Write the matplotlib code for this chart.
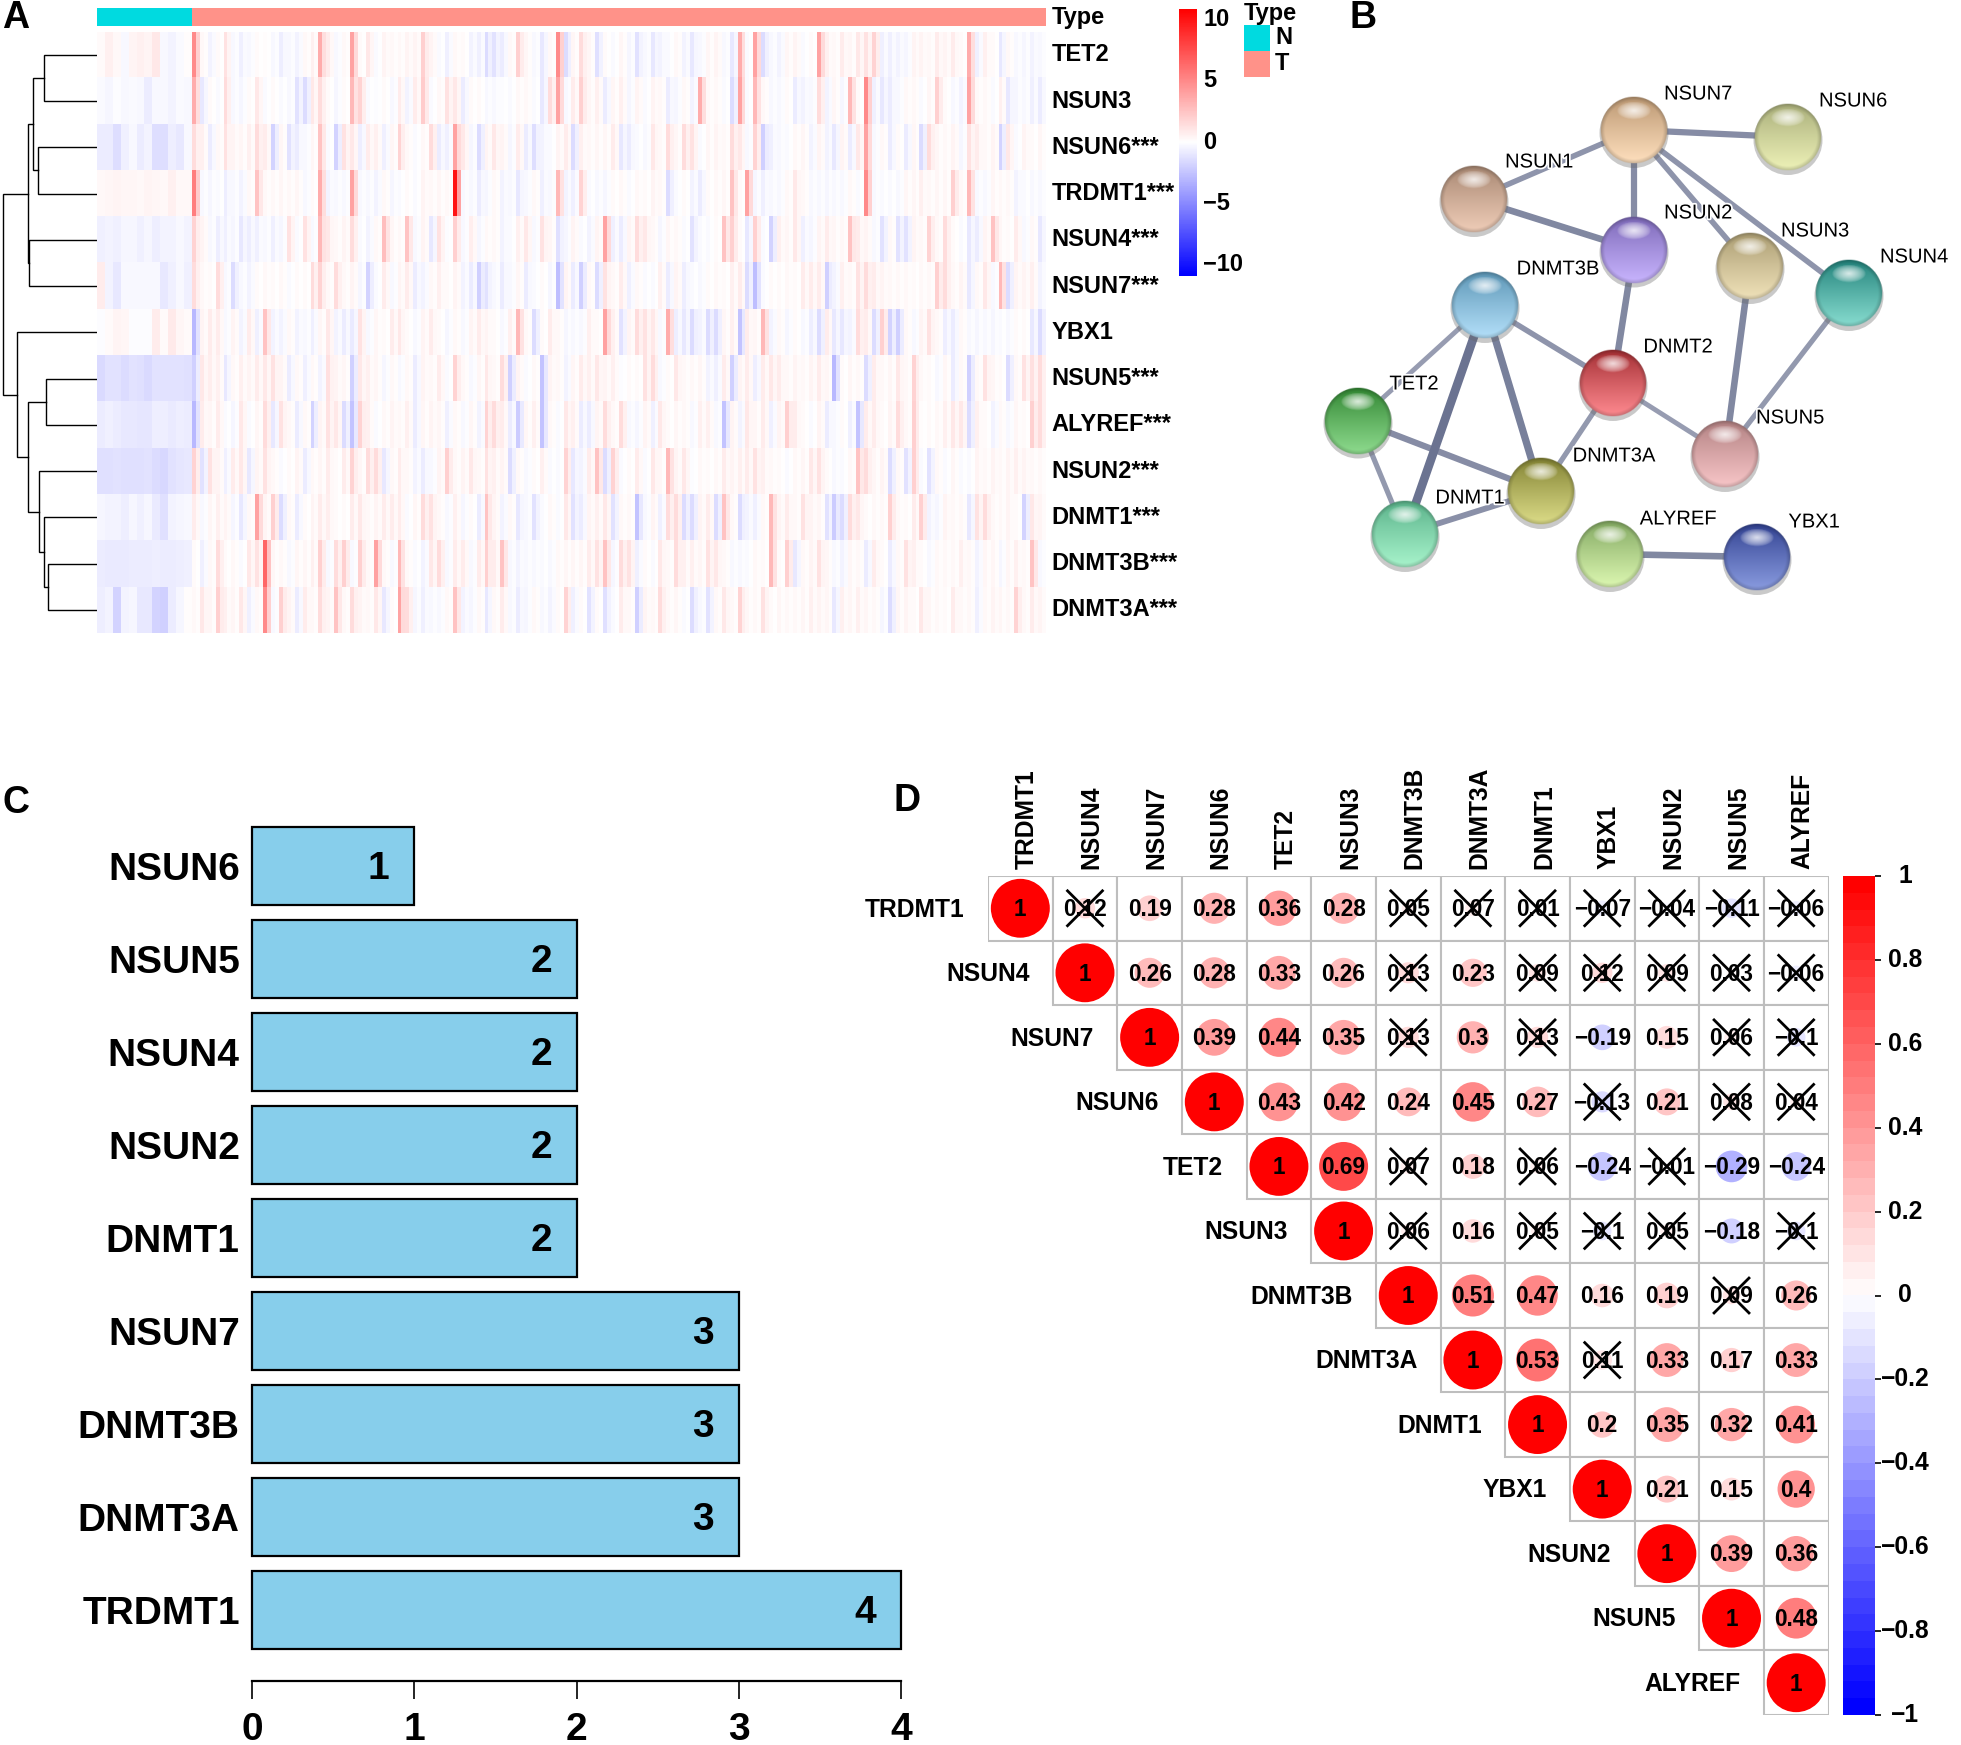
import numpy as np
import matplotlib
matplotlib.use('Agg')
import matplotlib.pyplot as plt
import matplotlib.patheffects as pe
from matplotlib.patches import Circle, Ellipse, Rectangle

plt.rcParams['font.family'] = ['Liberation Sans', 'DejaVu Sans']
plt.rcParams['font.weight'] = 'bold'

W, H = 1961, 1745

# panel A: expression stripes, 12 normal columns then 108 tumour columns
heat_genes = ['TET2', 'NSUN3', 'NSUN6***', 'TRDMT1***', 'NSUN4***', 'NSUN7***', 'YBX1',
              'NSUN5***', 'ALYREF***', 'NSUN2***', 'DNMT1***', 'DNMT3B***', 'DNMT3A***']
n_normal = 12
tet2 = [.2,.6,.3,-.3,.5,.6,.5,1,-.3,-.5,-.2,.1,
        5,.3,-.5,.2,1.2,-.3,-.6,-.3,.2,.1,-.3,-.7,-.3,-.5,.3,.6,3.5,.8,-.3,
        .3,4,.2,1,-.2,.5,.3,.3,.5,.5,2,.5,-.2,-.6,.3,.2,-.5,-.6,-1.5,-1.2,-.8,.3,2,.4,-.3,-1,.3,5,-1.5,.4,
        1.5,.4,-1.3,.2,-.2,.4,-.4,-1.2,-.3,-1,-.5,-.2,.3,-.5,-1,-.3,.4,.5,-.3,-1,3.5,-.2,4,-1.5,-.3,-.5,.4,.5,-.2,.2,
        4,.6,.3,.8,.4,1,1.2,1.8,-.6,-.6,-.5,-.4,.5,.5,.3,.8,.5,.8,.2,3.5,-.6,.6,.2,-1,.3,-.3,-.4,-.5,-.3]
nsun3 = [-.2,-.4,-.1,-.3,-.2,-.3,-.8,-.3,-.3,-.5,-.2,-.3,
         3.5,-1,.2,-.2,1.5,-.3,-.4,.2,1,-.2,.2,-.2,-.3,-1.2,-1.5,1,1.5,.2,-.4,
         .2,3,1.8,-.2,-.1,.2,-.3,.8,-.5,.8,2.2,-.2,.3,1.2,1,-.8,.2,.2,-.3,-.3,-.1,-.2,.3,.3,-.2,-1,1.5,4,-.3,.8,
         2,.4,.6,-.8,.4,.6,-.4,.5,-.2,.5,.3,-.8,-.4,.3,-.5,3.5,.3,.3,-.2,-1.5,4,-.2,3,.3,-.3,-.3,.2,-.8,-.5,-.3,
         1.5,-.5,.4,-.4,3,.2,5,-.6,-1,-.8,-.3,.3,.3,-.2,.4,2,.2,-.3,-.5,4,.3,.3,-.2,.6,-1,-.4,-.3,-.6,-.8]
nsun6 = [-.8,-.8,-1.4,-.6,-.3,-.8,-.5,-1.4,-1.4,-.7,-1,-.3,
         1.5,.6,-.8,.3,1.2,.5,.4,.6,1.5,.8,-1.8,.4,-1.2,-.8,-.3,.4,2.5,-.2,-1.8,
         1.2,1,-.7,.8,.6,-.6,.4,1.8,.3,-.2,.3,1.5,-.8,-.6,4,1,-.4,-1.5,.5,1,.5,-.4,.8,-.8,-1.4,-.5,-.2,.5,.8,-1.5,
         .6,.3,.4,.4,.8,-1,-.8,-.2,-.3,1,.3,1.5,.4,1.5,1.2,-.2,.4,.5,.3,1.5,1,-.3,1.8,-2,-.6,-.3,-.2,.3,.4,-.5,
         .5,-.5,-1,.5,-.8,1,4,-.3,.3,-.8,.2,-.8,.4,-1.5,1.5,.4,.3,.5,-.4,1.2,.8,.3,.5,-1.8,1,-.2,.5,.2,.4]
trdmt1 = [.3,.4,.5,.4,.4,.3,.5,.4,.3,.6,.3,.3,
          5.5,-.3,-.4,-.2,-.7,-.3,-.5,.3,2.5,.3,.3,.4,.3,.4,-.3,.2,3.5,-.5,-.3,
          -.3,4,-.3,-.3,-.5,.3,-.4,-.2,.2,-.2,.5,.3,.4,.3,10,-.3,-.3,-.8,-.4,.3,-.5,-.3,-1,-.3,.3,-.6,-.3,3,-.5,-.6,
          1.8,-.2,-.3,-.4,.2,.3,-.2,.3,.2,.5,.3,-1.5,-.2,.2,-.5,-.8,.2,.3,.4,2.5,.2,4,-.4,-.6,-.3,-.3,.3,1,.3,-.3,
          -.3,-.4,-.3,-.3,.3,-.2,5,-.3,-.2,-.2,-.3,.4,.4,.6,.3,.4,.4,2,.3,3,-.3,-.3,.4,.3,.3,-.5,-.2,-.3,-.3]
nsun4 = [-.6,-.5,-.6,-.4,-.4,-.6,-.4,-.7,-.5,-.5,-.3,-.5,
         1.8,.5,-.3,-.7,-.6,-.4,-1,-.7,-.6,-.3,-.6,-.4,1.2,-.2,1.2,-.3,3,1,.3,
         .5,1.5,-.2,-.5,.3,2.8,.4,.3,2.5,-.3,.5,-1,1.2,-.1,2,-.3,.7,-.4,.3,.3,-.5,-.2,.6,1,-.3,1.2,.4,-1.3,-.4,.5,
         -.2,-.5,.5,4,-.6,-.8,.5,1.5,1,.3,-.4,.4,.3,-.2,-1.2,-.2,-.2,.2,2.5,2,.2,-1,2,-.2,-1.8,.6,.4,1,-.6,-.4,
         .5,.8,.4,.3,2.5,.8,.5,-.3,-1.2,.3,-1.2,-1.2,.5,.3,1.8,.3,1.5,.2,-.2,-1,-.8,.5,2.5,.4,.2,.8,-.3,.3,-1]
nsun7 = [.8,-.5,-1,-.3,-.3,-.3,-.3,-.3,-1,-.6,-.3,-.6,
         1.5,.3,.2,1.5,-.3,-1.5,-.3,-.5,.2,.3,.2,.3,-.2,.2,.2,1.5,1.8,.3,1.5,
         .3,.5,-.4,-1.8,-.2,.8,-.3,.5,.8,-.8,-.5,.3,.6,.2,.5,-.5,-.8,-2,-1.2,-.3,-.8,-.3,.4,-.8,-.2,.2,-.4,-2.8,.5,-.8,
         -2,.3,-1.5,1.2,.3,.8,-.6,.3,-.2,-.2,.6,-.8,.5,-.7,-.2,-.3,.2,.3,.2,.6,.8,-1.5,-2.8,-.2,.2,.2,.3,.2,.8,.8,
         .8,-2,-.5,.6,.3,1.2,1.5,.8,.5,.3,.3,.3,.2,.3,.3,2,1.5,.3,.5,-1,.3,1,-.3,3,-1.5,.5,.5,.6,-.5]
ybx1 = [-.1,.2,.5,.4,-.1,-.1,-.1,.8,.2,.9,.4,.2,
        -3,.5,.8,.8,-.3,.5,-.5,.8,-.6,2.5,-.5,-.5,.3,-.5,-.3,-.6,.4,1,-.5,
        -.8,-.9,1.2,-.3,.4,.2,.8,1,.2,-.3,.5,.8,.2,-.4,.3,-.3,.5,.8,.5,.2,-.3,.6,3,.3,-1.5,.2,.8,.3,-.4,-.3,
        -.3,.6,.2,4,.6,-1.2,.5,1.5,1.2,1,-.3,3.5,-.7,-1,-1.5,-.5,-1.5,-1.5,.4,.6,-2.5,.8,.4,3,-.5,.3,-.4,.2,-.3,-.7,
        -1.5,.8,-1,-1,-.5,1.5,.8,-1.5,2,-1.8,-2,.3,-.3,.5,1.2,.3,-.7,-.8,.3,-.3,-.4,-.3,-.4,-.2,-.3,.2,.2,-1,-1.5]
nsun5 = [-1.6,-1.2,-1.2,-1.5,-1.2,-1.3,-1.6,-1.2,-1.2,-1.2,-1.2,-1.3,
         -2,1,.7,.6,-1,.3,.6,.5,.8,1,1.2,.5,-.8,.3,-.6,.3,-.5,1.3,.5,
         .4,-2,1,.6,.4,-.4,.3,-.3,.3,-.8,.5,.3,.8,-.2,1.8,.3,-.3,.4,1,.3,1.5,-2,.5,-.2,.3,-2.5,.5,.3,-.5,.4,
         .8,.6,1,.5,.6,-.1,.2,.2,1.2,1.5,-.3,.2,1,.3,.3,.4,-.5,-.6,.8,-2,.5,.8,-.7,.8,1,.8,.3,.5,.3,.5,
         .8,.4,-3,.2,.4,.3,-1.5,.8,.3,.4,1,.3,1.8,.3,.2,-.3,.4,-.8,.3,-2,.3,1.2,.4,.2,-1.5,.3,1.2,1.3,1.5]
alyref = [-.8,-.6,-.8,-1,-1,-1.1,-1.1,-.7,-.7,-.9,-.7,-.8,
          -3,.8,.4,.8,-.2,-.4,1,-.2,.4,1.5,-1,1.2,.3,-.8,.3,-1.8,.5,1.2,1,
          -1.5,-2.5,1.8,.6,-.2,.3,.5,.3,.6,-.8,.4,.5,.4,-.6,.3,-.3,.4,-.5,1.8,1.5,.8,-.8,-2.2,.4,.6,-2.5,.3,-.2,1,.6,
          -.8,-.8,.5,1.5,.3,1.5,-.3,-.4,.5,-.6,1,.2,.4,.3,-.3,.6,.6,-.3,-2.5,.5,-.5,1,.4,.8,-.6,.5,2,.8,.2,-.2,
          .5,-.8,-.3,.2,-.6,-2.5,.8,.8,.2,.5,1.5,.3,2,.1,.2,.3,.6,1,1,-1.5,.6,.2,-.5,.3,-.3,.4,.2,2,1.5]
nsun2 = [-1.3,-1.3,-1.2,-1.3,-1.3,-1.3,-1.2,-1.5,-1.7,-1.2,-1.1,-1,
         1.8,-1.2,1.2,.5,-.6,.8,1,-1,.5,1.2,.3,-.2,.2,.5,-.8,.3,.4,.8,.2,
         .8,1.8,.4,1.5,1.5,-1,.3,.8,.3,-.5,-.8,-.3,.5,2,.3,.5,1,.3,1.2,.6,.5,-1.5,.3,-.3,.2,.6,-.2,-.2,1.8,-1,
         -.5,.8,2.5,-1.5,1.8,-.2,.2,.8,-.2,1,.4,3,.5,1,-.1,.3,.2,.3,.8,.5,.6,.8,1.2,.6,.3,.2,-.2,.3,.4,1,
         1.2,.2,-.3,-.2,.3,2.5,1.5,.4,.5,-1.5,.3,-1.2,2,-.2,-1.2,.3,-.2,.4,-.2,-.2,.5,.3,.5,.3,.5,.6,.5,.3,.3]
dnmt1 = [-.4,-.5,-.5,-.7,-.4,-.6,-.4,-.9,-1.3,-.5,-.4,-.3,
         .8,-.3,.4,.6,.5,-.4,-1,.3,4,.5,2,-1.5,.3,-.8,.2,.5,.8,.7,.2,
         .2,.8,1,.3,.5,.8,.8,.8,-.2,.4,1.5,1.2,.3,-.3,.6,-.4,.2,-.8,2.5,.5,-.5,.3,-1,-.3,-1.2,-.2,.3,-.2,1,-1.2,
         -.8,.5,.6,1,-1.2,.3,.3,-2.5,-.3,.5,-.6,1.5,1.5,-1.5,-1.5,.5,.8,-1.5,2.5,.3,-1.5,-.5,-.6,.3,3,.5,.8,.3,1.2,.5,
         .4,-1.2,-2.2,-1.5,1.5,1,.2,.3,.3,2,.3,.2,.8,2,-.5,-.4,.5,.3,.3,-1,1.2,1.5,.3,.3,.5,.2,-1.8,1,.5]
dnmt3b = [-.8,-.9,-.9,-.9,-.8,-.8,-.8,-.7,-.8,-.8,-.7,-.6,
          .2,-.6,.3,1.5,.2,.3,-.2,1,1.2,6.5,.4,.3,-.3,.4,.4,.6,2,-.3,1.5,
          2,-.3,2,.3,4,.3,-.3,3,.3,-.2,-.5,1,1.5,-.3,.8,.8,-.3,.8,2,.8,2.5,-.3,-.5,-.3,-.3,-.2,-.3,.3,.4,.4,
          .4,.8,1.2,2.5,-.4,1.5,1.2,-.6,.2,-.2,1,.3,1.5,.6,.6,.4,1.2,1,.3,-.3,-.3,-.2,.3,.2,3,.2,2,-1,.3,.5,
          1.2,.4,-.3,-.5,.4,.3,-.8,.8,.2,-.8,.3,1.2,.6,.2,-.3,.3,.3,.3,.6,.3,-.5,.4,.4,-.4,.4,.6,.3,2.5,-.3]
dnmt3a = [-.7,-.5,-1.8,-.5,-.4,-1,-1,-1.8,-2,-.8,-.4,.1,
          .3,1,.4,2,.6,.4,1,-.6,.3,5,-.3,2,.5,-.8,.8,.3,1.5,.5,2.5,
          .3,1.5,.5,.3,1,-1,.2,4,1.5,-.4,-.6,-.3,-.3,.3,2.5,-.5,-.4,.3,-1,.3,.8,-.3,-.8,-.4,.3,-.3,-.5,.2,1.8,-.6,
          .2,-1.2,.2,-1.3,-.2,.8,.3,-2,.5,.3,1.5,.3,.4,-.2,-1.5,-.3,-1.2,.3,1,.3,1.8,.4,.3,1.2,.2,.4,.3,.3,.4,.6,
          .5,.4,-1,.6,.4,.6,.4,.3,-.4,-1.5,.4,.5,.2,1,.4,.3,.2,.8,.3,.3,-.6,.3,.5,.4,.3,1.8,.3,.8,.5]
heat_rows = [tet2, nsun3, nsun6, trdmt1, nsun4, nsun7, ybx1, nsun5, alyref, nsun2, dnmt1, dnmt3b, dnmt3a]
# row tree: (child, child, height); leaves are 0-12, new clusters count on from 13
heat_tree = [(0, 1, 44), (2, 3, 37.5), (13, 14, 33), (4, 5, 29), (15, 16, 28), (7, 8, 46),
             (11, 12, 48), (10, 19, 44), (9, 20, 39), (18, 21, 28), (6, 22, 16.5), (17, 23, 2.5)]

# panel B: network
net_names = ['NSUN7', 'NSUN6', 'NSUN1', 'NSUN2', 'NSUN3', 'NSUN4', 'DNMT3B', 'DNMT2', 'TET2',
             'NSUN5', 'DNMT3A', 'DNMT1', 'ALYREF', 'YBX1']
net_x = [1634, 1788, 1474, 1634, 1750, 1849, 1485, 1613, 1358, 1725, 1541, 1405, 1610, 1757]
net_y = [130, 137, 199, 249.5, 266, 293, 305, 383, 420.5, 454, 491, 534, 554, 557]
label_x = [1698, 1853, 1539, 1698, 1815, 1914, 1558, 1678, 1414, 1790, 1614, 1470, 1678, 1814]
label_y = [94, 101, 162, 213, 231, 257, 269, 347, 384, 418, 456, 498, 519, 522]
net_dark = ['#B8946F', '#A7AC78', '#A58570', '#7A66B5', '#A89A70', '#1F7F78', '#5A94B4', '#A02B30',
            '#2F8430', '#B07F80', '#7F7F30', '#58B088', '#7FA55F', '#2F3F8F']
net_light = ['#FFE0BE', '#EEF2B8', '#F0CDB8', '#C9B5FF', '#F0E2BA', '#88DDD0', '#B4E0FA', '#FF8A90',
             '#8FDC8F', '#F8C6C8', '#DCDC88', '#A8F4CC', '#DDF8B2', '#8A9CE0']
net_edges = [('NSUN7', 'NSUN6', 3.6), ('NSUN7', 'NSUN1', 3.2), ('NSUN7', 'NSUN2', 3.6), ('NSUN7', 'NSUN3', 3.2),
             ('NSUN7', 'NSUN4', 3.2), ('NSUN1', 'NSUN2', 3.8), ('NSUN2', 'DNMT2', 3.8), ('DNMT3B', 'DNMT2', 3.2),
             ('DNMT3B', 'TET2', 2.8), ('DNMT3B', 'DNMT1', 5.0), ('DNMT3B', 'DNMT3A', 4.2), ('TET2', 'DNMT3A', 3.6),
             ('TET2', 'DNMT1', 3.0), ('DNMT1', 'DNMT3A', 3.4), ('DNMT2', 'DNMT3A', 3.0), ('DNMT2', 'NSUN5', 2.8),
             ('NSUN3', 'NSUN5', 3.8), ('NSUN4', 'NSUN5', 3.0), ('ALYREF', 'YBX1', 3.8)]

# panel C: bars, top to bottom
bar_genes = ['NSUN6', 'NSUN5', 'NSUN4', 'NSUN2', 'DNMT1', 'NSUN7', 'DNMT3B', 'DNMT3A', 'TRDMT1']
bar_counts = [1, 2, 2, 2, 2, 3, 3, 3, 4]

# panel D: upper triangle of the correlation matrix, row by row
corr_genes = ['TRDMT1', 'NSUN4', 'NSUN7', 'NSUN6', 'TET2', 'NSUN3', 'DNMT3B', 'DNMT3A', 'DNMT1',
              'YBX1', 'NSUN2', 'NSUN5', 'ALYREF']
corr_upper = [[1, .12, .19, .28, .36, .28, .05, .07, .01, -.07, -.04, -.11, -.06],
              [1, .26, .28, .33, .26, .13, .23, .09, .12, .09, .03, -.06],
              [1, .39, .44, .35, .13, .3, .13, -.19, .15, .06, -.1],
              [1, .43, .42, .24, .45, .27, -.13, .21, .08, .04],
              [1, .69, .07, .18, .06, -.24, -.01, -.29, -.24],
              [1, .06, .16, .05, -.1, .05, -.18, -.1],
              [1, .51, .47, .16, .19, .09, .26],
              [1, .53, .11, .33, .17, .33],
              [1, .2, .35, .32, .41],
              [1, .21, .15, .4],
              [1, .39, .36],
              [1, .48],
              [1]]
corr_ticks = [1, .8, .6, .4, .2, 0, -.2, -.4, -.6, -.8, -1]

fig = plt.figure(figsize=(W / 100, H / 100), dpi=100)


def px_axes(x0, y0, x1, y1):
    # axes placed by pixel box, y counted from the top of the picture
    return fig.add_axes([x0 / W, 1 - y1 / H, (x1 - x0) / W, (y1 - y0) / H])


def label(x):
    return f'{x:g}'.replace('-', '\u2212')


page = px_axes(0, 0, W, H)
page.set_xlim(0, W)
page.set_ylim(H, 0)
page.axis('off')

for letter, x, y in [('A', 2, 18), ('B', 1350, 18), ('C', 2, 803), ('D', 894, 801)]:
    page.text(x, y, letter, fontsize=27, va='center')

# A: heatmap. Tumour columns get a bright half and a faded half so the stripes stay thin.
heat = np.array(heat_rows)
wide = np.repeat(heat, 2, axis=1)
wide[:, 2 * n_normal + 1::2] *= .4
hm = px_axes(97, 31.7, 1046, 633)
hm.imshow(wide, cmap='bwr', vmin=-10.9, vmax=10.9, aspect='auto',
          interpolation='nearest', extent=[0, 120, 13, 0])
hm.axis('off')
for i, name in enumerate(heat_genes):
    hm.text(120.7, i + 0.5, name, fontsize=17, va='center', ha='left')

bar = px_axes(97, 8, 1046, 25.5)
bar.barh(0, n_normal, left=0, height=1, color='#00DAE0')
bar.barh(0, 120 - n_normal, left=n_normal, height=1, color='#FF9289')
bar.set_xlim(0, 120)
bar.set_ylim(-.5, .5)
bar.axis('off')
page.text(1052, 17, 'Type', fontsize=17, va='center')

# row tree, drawn from the merge table
dend = px_axes(0, 31.7, 97, 633)
dend.set_xlim(0, 97)
dend.set_ylim(13, 0)
dend.axis('off')
nodes = {i: (97, i + .5) for i in range(13)}
for k, (a, b, x) in enumerate(heat_tree):
    (xa, ya), (xb, yb) = nodes[a], nodes[b]
    dend.plot([xa, x, x, xb], [ya, ya, yb, yb], color='black', lw=1, solid_joinstyle='miter')
    nodes[13 + k] = (x, (ya + yb) / 2)

cb = px_axes(1179, 8.5, 1197, 276)
cb.imshow(np.linspace(10.9, -10.9, 200)[:, None], cmap='bwr', vmin=-10.9, vmax=10.9, aspect='auto',
          extent=[0, 1, -10.9, 10.9])
cb.axis('off')
for v in [10, 5, 0, -5, -10]:
    cb.text(1.35, v, label(v), fontsize=17, va='center', ha='left', transform=cb.get_yaxis_transform())

page.text(1244, 13, 'Type', fontsize=17, va='center')
page.add_patch(Rectangle((1244, 25), 26, 26, color='#00DAE0', lw=0))
page.add_patch(Rectangle((1244, 51), 26, 25.5, color='#FF9289', lw=0))
page.text(1275, 37, 'N', fontsize=17, va='center')
page.text(1275, 63, 'T', fontsize=17, va='center')

# B: network
pos = {n: (x, y) for n, x, y in zip(net_names, net_x, net_y)}
for a, b, w in net_edges:
    page.plot([pos[a][0], pos[b][0]], [pos[a][1], pos[b][1]], color='#6B7391', lw=w * 1.25,
              alpha=min(1, .28 + w * .15), solid_capstyle='butt', zorder=2)


def sphere(dark, light, n=90):
    yy, xx = np.mgrid[-1:1:n * 1j, -1:1:n * 1j]
    rr = np.hypot(xx, yy)
    t = np.clip((yy + 1) / 2, 0, 1)[..., None]
    dark = np.array(matplotlib.colors.to_rgb(dark))
    light = np.array(matplotlib.colors.to_rgb(light))
    rgb = dark + (light - dark) * t ** .9
    rgb = rgb * (.78 + .22 * np.clip((1 - rr) / .14, 0, 1))[..., None]
    glow = np.clip(1 - np.hypot(xx / .5, (yy + .58) / .26), 0, 1) ** .6 * .8
    rgb = rgb + (1 - rgb) * glow[..., None]
    alpha = np.clip((1 - rr) * n / 2, 0, 1)[..., None]
    return np.clip(np.concatenate([rgb, alpha], axis=2), 0, 1)


radius = 34
for n, d, l in zip(net_names, net_dark, net_light):
    x, y = pos[n]
    page.add_patch(Ellipse((x, y + 3), 2 * radius + 1, 2 * radius + 2, color='#666666', alpha=.35, lw=0, zorder=3))
    page.imshow(sphere(d, l), extent=[x - radius, x + radius, y + radius, y - radius], aspect='auto', zorder=4)
for n, x, y in zip(net_names, label_x, label_y):
    page.text(x, y, n, fontsize=14.5, fontweight='normal', ha='center', va='center', zorder=6,
              path_effects=[pe.withStroke(linewidth=2.5, foreground='white')])
page.set_xlim(0, W)
page.set_ylim(H, 0)

# C: bars
ax = px_axes(252.3, 819.5, 901, 1656.5)
ax.barh(bar_genes, bar_counts, height=.83, color='#87CEEB', edgecolor='black', linewidth=1.6, clip_on=False)
for i, v in enumerate(bar_counts):
    ax.text(v - .22, i + .035, str(v), fontsize=28, ha='center', va='center')
ax.set_xlim(0, 4)
ax.set_ylim(8.5, -.5)
ax.set_xticks([0, 1, 2, 3, 4])
ax.tick_params(axis='x', length=13, width=1.2, pad=9, labelsize=28)
ax.tick_params(axis='y', length=0, pad=9, labelsize=28)
for side in ['top', 'right', 'left']:
    ax.spines[side].set_visible(False)
ax.spines['bottom'].set_position(('outward', 17.6))
ax.spines['bottom'].set_linewidth(1.6)

# D: correlation plot
cmap = plt.get_cmap('bwr', 50)
cx = px_axes(988, 876, 1828.5, 1715)
cx.set_xlim(0, 13)
cx.set_ylim(13, 0)
cx.axis('off')
for i, row in enumerate(corr_upper):
    cx.text(i - .36, i + .52, corr_genes[i], fontsize=17.7, ha='right', va='center')
    cx.text(i + .6, -.11, corr_genes[i], fontsize=17.7, rotation=90, ha='center', va='bottom', clip_on=False)
    for k, r in enumerate(row):
        j = i + k
        cx.add_patch(Rectangle((j, i), 1, 1, facecolor='white', edgecolor='#BEBEBE', lw=1.5, zorder=1))
        cx.add_patch(Circle((j + .5, i + .5), .456 * abs(r) ** .5, color=cmap((r + 1) / 2), lw=0, zorder=2))
        cx.text(j + .5, i + .52, label(r), fontsize=16.3, ha='center', va='center', zorder=3)
        if abs(r) < .14:
            cx.plot([j + .23, j + .77], [i + .23, i + .77], color='black', lw=2, zorder=4)
            cx.plot([j + .23, j + .77], [i + .77, i + .23], color='black', lw=2, zorder=4)

bx = px_axes(1842.5, 876, 1874.5, 1715)
bx.imshow(np.linspace(1, -1, 50)[:, None], cmap=cmap, vmin=-1, vmax=1, aspect='auto',
          interpolation='nearest', extent=[0, 1, -1, 1])
bx.set_xticks([])
bx.set_yticks(corr_ticks)
bx.set_yticklabels([])
bx.yaxis.tick_right()
bx.tick_params(axis='y', length=4, width=1.2)
for side in bx.spines:
    bx.spines[side].set_visible(False)
for v in corr_ticks:
    bx.text(1.95, v, label(v), fontsize=17.7, ha='center', va='center', transform=bx.get_yaxis_transform())

fig.savefig('out.png', dpi=100)
